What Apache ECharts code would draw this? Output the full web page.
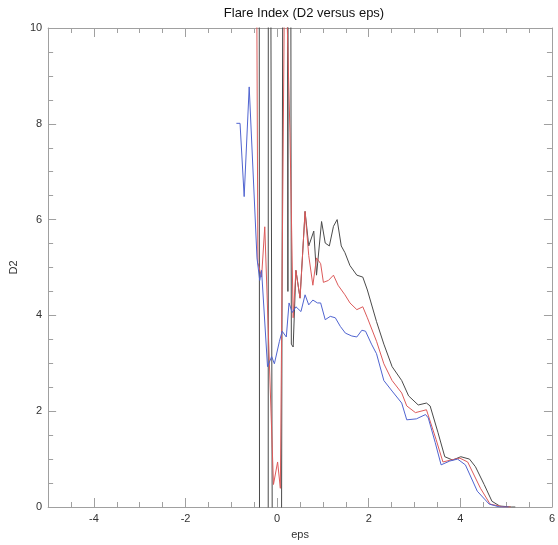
<!DOCTYPE html>
<html>
<head>
<meta charset="utf-8">
<script src="https://cdn.jsdelivr.net/npm/echarts@6/dist/echarts.min.js"></script>
<style>html,body{margin:0;padding:0;background:#fff}#c{width:558px;height:545px}</style>
</head>
<body>
<div id="c"></div>
<script>
// ---- data ----
const titleText = 'Flare Index (D2 versus eps)';
const xTickLabels = [-4, -2, 0, 2, 4, 6];
const yTickLabels = [0, 2, 4, 6, 8, 10];

const blackX = [-0.40, -0.37, -0.20, -0.19, -0.10, 0.09, 0.19, 0.21, 0.235, 0.255, 0.31, 0.35, 0.41, 0.50, 0.61, 0.69, 0.80, 0.86, 0.97, 1.05, 1.14, 1.23, 1.31, 1.40, 1.48, 1.59, 1.74, 1.87, 1.97, 2.17, 2.33, 2.51, 2.72, 2.87, 3.08, 3.26, 3.34, 3.51, 3.66, 3.83, 4.01, 4.20, 4.33, 4.52, 4.69, 4.86, 5.12, 5.20];
const blackY = [30, -30, -30, 30, -3, -3, 40, 40, 4.5, 40, 3.4, 3.34, 4.94, 4.36, 6.17, 5.45, 5.76, 4.84, 5.96, 5.51, 5.45, 5.86, 6.00, 5.45, 5.31, 5.04, 4.84, 4.80, 4.53, 3.87, 3.40, 2.93, 2.64, 2.32, 2.13, 2.17, 2.11, 1.56, 1.05, 0.98, 1.05, 1.00, 0.84, 0.47, 0.12, 0.02, 0.0, 0.0];

const redX = [-0.46, -0.42, -0.34, -0.27, -0.08, 0.01, 0.07, 0.17, 0.28, 0.35, 0.41, 0.50, 0.61, 0.69, 0.78, 0.86, 0.95, 1.01, 1.12, 1.23, 1.33, 1.48, 1.59, 1.74, 1.87, 1.97, 2.17, 2.33, 2.51, 2.72, 2.83, 3.02, 3.26, 3.47, 3.62, 3.79, 3.99, 4.16, 4.44, 4.65, 4.95, 5.10];
const redY = [14, 5.1, 4.8, 5.85, 0.47, 0.94, 0.39, 12, 7.81, 3.95, 4.94, 4.36, 6.17, 5.25, 4.63, 5.20, 5.08, 4.69, 4.73, 4.84, 4.63, 4.43, 4.26, 4.12, 4.18, 3.95, 3.46, 2.99, 2.64, 2.38, 2.11, 1.97, 2.03, 1.41, 0.94, 0.98, 1.02, 0.94, 0.39, 0.06, 0.0, 0.0];

const blueX = [-0.89, -0.81, -0.72, -0.61, -0.44, -0.38, -0.34, -0.21, -0.12, -0.06, 0.05, 0.11, 0.20, 0.26, 0.33, 0.41, 0.52, 0.61, 0.69, 0.78, 0.88, 0.95, 1.05, 1.16, 1.27, 1.38, 1.49, 1.63, 1.74, 1.85, 1.93, 2.06, 2.17, 2.33, 2.51, 2.72, 2.83, 3.04, 3.24, 3.30, 3.45, 3.58, 3.77, 3.94, 4.11, 4.37, 4.63, 4.86, 5.05];
const blueY = [8.01, 8.01, 6.48, 8.77, 5.20, 4.73, 4.94, 2.93, 3.14, 2.99, 3.46, 3.67, 3.55, 4.26, 4.06, 4.18, 4.08, 4.43, 4.22, 4.32, 4.26, 4.26, 3.91, 3.98, 3.95, 3.77, 3.63, 3.57, 3.55, 3.69, 3.67, 3.40, 3.20, 2.64, 2.42, 2.17, 1.82, 1.84, 1.93, 1.86, 1.35, 0.88, 0.96, 1.00, 0.88, 0.33, 0.06, 0.0, 0.0];

const xMinorTicks = [];
for (let v = -4.5; v < 6; v += 0.5) { if (v % 2 !== 0) xMinorTicks.push(v); }

const pairs = (xs, ys) => xs.map((x, i) => [x, ys[i]]);
const FONT = "'Liberation Sans', Arial, sans-serif";
const AX = '#a0a0a0';

const chart = echarts.init(document.getElementById('c'), null, {renderer: 'canvas'});
const gridPos = {left: 42, right: 2, top: 28, bottom: 29};

function xAx(pos, major, showLabel, name) {
  return {
    type: 'value', position: pos, min: -5, max: 6,
    axisLine: {show: major, onZero: false, lineStyle: {color: AX, width: 1}},
    axisTick: {show: true, inside: true, length: major ? 9 : 5, lineStyle: {color: AX},
               customValues: major ? xTickLabels : xMinorTicks},
    axisLabel: {show: showLabel, customValues: xTickLabels, color: '#333', fontSize: 11, fontFamily: FONT, margin: 6},
    splitLine: {show: false},
    name: name || '', nameLocation: 'middle', nameGap: 22,
    nameTextStyle: {color: '#333', fontSize: 11, fontFamily: FONT}
  };
}
function yAx(pos, showLabel, name) {
  return {
    type: 'value', position: pos, min: 0, max: 10, interval: 2,
    axisLine: {show: true, onZero: false, lineStyle: {color: AX, width: 1}},
    axisTick: {show: true, inside: true, length: 8, lineStyle: {color: AX}},
    minorTick: {show: true, splitNumber: 4, length: 5, lineStyle: {color: AX}},
    axisLabel: {show: showLabel, color: '#333', fontSize: 11, fontFamily: FONT, margin: 6},
    splitLine: {show: false}, minorSplitLine: {show: false},
    name: name || '', nameLocation: 'middle', nameGap: 26,
    nameTextStyle: {color: '#333', fontSize: 11, fontFamily: FONT}
  };
}

function line(data, color) {
  return {
    type: 'line', data: data, xAxisIndex: 0, yAxisIndex: 0,
    showSymbol: false, symbol: 'none', smooth: false, clip: true,
    lineStyle: {color: color, width: 1}, itemStyle: {color: color},
    animation: false
  };
}

chart.setOption({
  animation: false,
  backgroundColor: '#fff',
  title: {text: titleText, left: 299, top: 2, textAlign: 'center',
          textStyle: {fontSize: 13, fontWeight: 'normal', color: '#111', fontFamily: FONT}},
  grid: gridPos,
  xAxis: [xAx('bottom', true, true, 'eps'), xAx('bottom', false, false), xAx('top', true, false), xAx('top', false, false)],
  yAxis: [yAx('left', true, 'D2'), yAx('right', false)],
  series: [
    line(pairs(blackX, blackY), '#4a4a4a'),
    line(pairs(redX, redY), '#dc5a5a'),
    line(pairs(blueX, blueY), '#5064d0')
  ]
});
</script>
</body>
</html>
